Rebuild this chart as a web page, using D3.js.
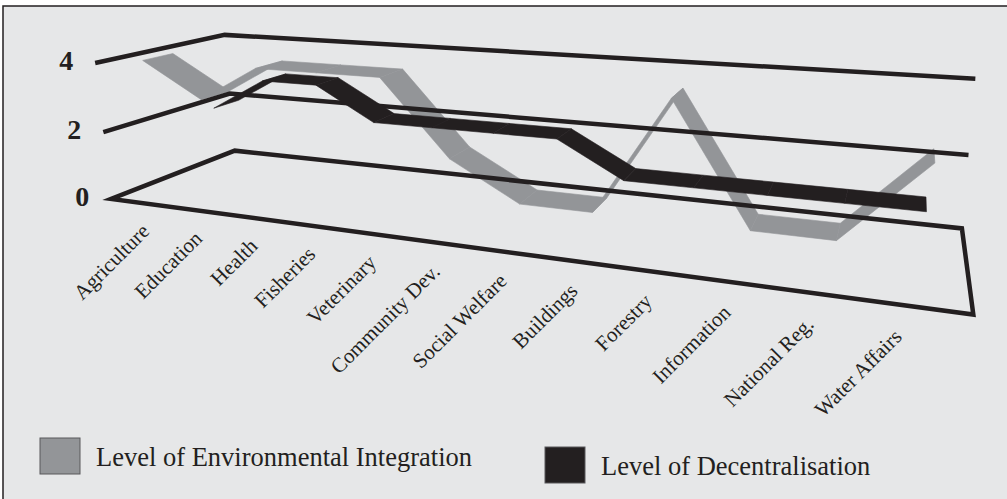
<!DOCTYPE html>
<html>
<head>
<meta charset="utf-8">
<script src="https://cdn.jsdelivr.net/npm/d3@7"></script>
<style>
  html, body { margin: 0; padding: 0; background: #ffffff; }
  svg { display: block; }
</style>
</head>
<body>
<svg id="chart" width="1007" height="499"></svg>
<script>
// ---- data ----
const categories = ["Agriculture", "Education", "Health", "Fisheries", "Veterinary",
  "Community Dev.", "Social Welfare", "Buildings", "Forestry", "Information",
  "National Reg.", "Water Affairs"];
const environmentalIntegration = [4, 3, 4, 4, 4, 2, 1, 1, 4, 1, 1, 3];
const decentralisation = [2, 3, 3, 2, 2, 2, 2, 1, 1, 1, 1, 1];
const valueTicks = [0, 2, 4];
const seriesNames = ["Level of Environmental Integration", "Level of Decentralisation"];

// ---- layout ----
const W = 1007, H = 499;
const ink = "#231f20";
const grey = "#939598";
const serif = "'Liberation Serif', 'Times New Roman', serif";
const svg = d3.select("#chart");

// panel background + border
svg.append("rect").attr("x", 3).attr("y", 6).attr("width", W + 10).attr("height", H + 10)
  .attr("fill", "#e6e7e8").attr("stroke", ink).attr("stroke-width", 1.5);

// scales: category position across the floor, value height
const xScale = d3.scalePoint().domain(categories).range([0, 1]).padding(0.5);
const yScale = d3.scaleLinear().domain([0, 4]).range([0, 1]);

// screen placement of the plot cube corners (x: 0..1, y: 0..1, z: 0 front .. 1 back)
const cubeCorners = [
  [[0, 0, 0], [108, 199]], [[1, 0, 0], [973, 316]],
  [[0, 0, 1], [237, 151]], [[1, 0, 1], [962, 226]],
  [[0, 1, 0], [97, 62]],   [[0, 1, 1], [222, 35]], [[1, 1, 1], [976, 79]],
  [[0, .5, 0], [105, 132]], [[0, .5, 1], [230, 94]], [[1, .5, 1], [968, 156]]
];

// least-squares perspective camera (3x4 matrix, last entry fixed to 1)
function fitCamera(pairs) {
  const rows = [], rhs = [];
  pairs.forEach(([[X, Y, Z], [u, v]]) => {
    const un = (u - 500) / 500, vn = (v - 250) / 500;
    rows.push([X, Y, Z, 1, 0, 0, 0, 0, -un * X, -un * Y, -un * Z]); rhs.push(un);
    rows.push([0, 0, 0, 0, X, Y, Z, 1, -vn * X, -vn * Y, -vn * Z]); rhs.push(vn);
  });
  const n = 11;
  const M = Array.from({ length: n }, () => new Array(n + 1).fill(0));
  rows.forEach((r, k) => {
    for (let i = 0; i < n; i++) {
      for (let j = 0; j < n; j++) M[i][j] += r[i] * r[j];
      M[i][n] += r[i] * rhs[k];
    }
  });
  for (let c = 0; c < n; c++) {
    let piv = c;
    for (let r = c + 1; r < n; r++) if (Math.abs(M[r][c]) > Math.abs(M[piv][c])) piv = r;
    [M[c], M[piv]] = [M[piv], M[c]];
    for (let r = 0; r < n; r++) {
      if (r === c) continue;
      const f = M[r][c] / M[c][c];
      for (let j = c; j <= n; j++) M[r][j] -= f * M[c][j];
    }
  }
  return M.map((row, i) => row[n] / row[i]);
}
const cam = fitCamera(cubeCorners);
function project(x, y, z) {
  const w = cam[8] * x + cam[9] * y + cam[10] * z + 1;
  const u = (cam[0] * x + cam[1] * y + cam[2] * z + cam[3]) / w;
  const v = (cam[4] * x + cam[5] * y + cam[6] * z + cam[7]) / w;
  return [u * 500 + 500, v * 500 + 250];
}

// depth row of each ribbon: first series in the front row, second in the back row
const bands = [[0.14, 0.36], [0.64, 0.86]];
const line = d3.line();

function ribbon(values, band, color) {
  const g = svg.append("g");
  for (let i = 0; i < values.length - 1; i++) {
    const a = values[i], b = values[i + 1];
    if (a == null || b == null) continue;
    const xa = xScale(categories[i]), xb = xScale(categories[i + 1]);
    const ya = yScale(a), yb = yScale(b);
    const quad = [project(xa, ya, band[0]), project(xb, yb, band[0]),
                  project(xb, yb, band[1]), project(xa, ya, band[1])];
    g.append("path").attr("d", line(quad) + "Z")
      .attr("fill", color).attr("stroke", color).attr("stroke-width", 0.6)
      .attr("stroke-linejoin", "round");
  }
}

// environmental integration ribbon
ribbon(environmentalIntegration, bands[0], grey);

// walls: gridlines and floor outline
const grid = svg.append("g").attr("fill", "none").attr("stroke", ink)
  .attr("stroke-width", 4.5).attr("stroke-linejoin", "miter");
valueTicks.forEach(t => {
  const y = yScale(t);
  const pts = t === 0
    ? [project(0, y, 0), project(0, y, 1), project(1, y, 1), project(1, y, 0)]
    : [project(0, y, 0), project(0, y, 1), project(1, y, 1)];
  grid.append("path").attr("d", line(pts) + (t === 0 ? "Z" : ""));
});

// decentralisation ribbon
ribbon(decentralisation, bands[1], ink);

// value labels
svg.append("g").selectAll("text").data(valueTicks).join("text")
  .attr("x", d => project(0, yScale(d), 0)[0] - 22)
  .attr("y", d => project(0, yScale(d), 0)[1] + 7)
  .attr("text-anchor", "end")
  .attr("font-family", serif)
  .attr("font-weight", "bold").attr("font-size", 28).attr("fill", ink)
  .text(d => d);

// category labels, slanted under the front edge of the floor
svg.append("g").selectAll("text").data(categories).join("text")
  .attr("transform", d => {
    const x = project(xScale(d), 0, 0.25)[0] - 21;
    const y = project(xScale(d), 0, 0)[1] + 30;
    return `translate(${x},${y}) rotate(-45)`;
  })
  .attr("text-anchor", "end")
  .attr("font-family", serif)
  .attr("font-size", 21).attr("fill", ink)
  .text(d => d);

// legend
const legend = [
  { name: seriesNames[0], color: grey, x: 40, y: 438 },
  { name: seriesNames[1], color: ink, x: 545, y: 447 }
];
const lg = svg.append("g").selectAll("g").data(legend).join("g")
  .attr("transform", d => `translate(${d.x},${d.y})`);
lg.append("rect").attr("width", 40).attr("height", 36)
  .attr("fill", d => d.color).attr("stroke", "#58595b").attr("stroke-width", 1);
lg.append("text").attr("x", 56).attr("y", 28)
  .attr("font-family", serif)
  .attr("font-size", 26.5).attr("fill", ink)
  .text(d => d.name);
</script>
</body>
</html>
